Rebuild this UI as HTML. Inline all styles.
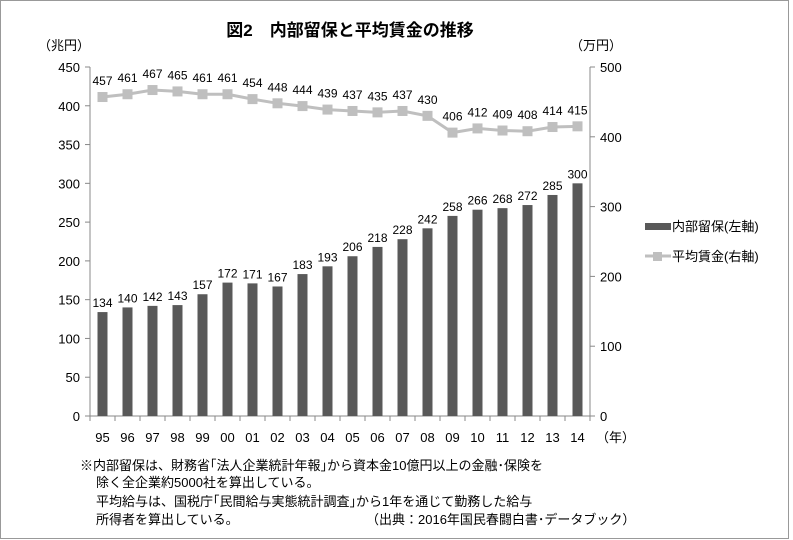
<!DOCTYPE html>
<html><head><meta charset="utf-8"><style>
body{margin:0;background:#fff}
svg{display:block;font-family:"Liberation Sans","Noto Sans CJK JP",sans-serif}
</style></head><body>
<svg id="c" width="793" height="540" viewBox="0 0 793 540">
<rect x="0.5" y="0.5" width="788" height="538" fill="#fff" stroke="#999"/>
<text x="350" y="36" font-size="17" font-weight="bold" text-anchor="middle">図2　内部留保と平均賃金の推移</text>
<text x="38" y="50" font-size="13">（兆円）</text>
<text x="570" y="50" font-size="13">（万円）</text>
<g id="ax"></g>
<g id="bars"></g>
<g id="line"></g>
<rect x="645" y="223" width="26" height="7" fill="#595959"/>
<text x="672" y="231" font-size="13">内部留保(左軸)</text>
<line x1="645" y1="256" x2="671" y2="256" stroke="#bfbfbf" stroke-width="3"/>
<rect x="653" y="252" width="9" height="9" fill="#bfbfbf"/>
<text x="672" y="261" font-size="13">平均賃金(右軸)</text>
<text x="596" y="442" font-size="13">（年）</text>
<g font-size="13">
<text x="80" y="470">※内部留保は、財務省｢法人企業統計年報｣から資本金10億円以上の金融･保険を</text>
<text x="96" y="487">除く全企業約5000社を算出している。</text>
<text x="96" y="506">平均給与は、国税庁｢民間給与実態統計調査｣から1年を通じて勤務した給与</text>
<text x="96" y="524">所得者を算出している。</text>
<text x="366" y="524">（出典：2016年国民春闘白書･データブック）</text>
</g>
</svg>
<script>
const years=["95","96","97","98","99","00","01","02","03","04","05","06","07","08","09","10","11","12","13","14"];
const cats=years.slice(0,20);
const reserves=[134,140,142,143,157,172,171,167,183,193,206,218,228,242,258,266,268,272,285,300];
const wages=[457,461,467,465,461,461,454,448,444,439,437,435,437,430,406,412,409,408,414,415];
const leftTicks=[0,50,100,150,200,250,300,350,400,450];
const rightTicks=[0,100,200,300,400,500];
const NS="http://www.w3.org/2000/svg";
const X0=90,X1=590,Y0=416,Y1=67;
const n=cats.length;
const bw=(X1-X0)/n;
const xc=i=>X0+bw*(i+0.5);
const yl=v=>Y0-(Y0-Y1)*v/450;
const yr=v=>Y0-(Y0-Y1)*v/500;
function mk(t,a,p){const e=document.createElementNS(NS,t);for(const k in a)e.setAttribute(k,a[k]);p.appendChild(e);return e;}
const ax=document.getElementById('ax'),bars=document.getElementById('bars'),line=document.getElementById('line');
let e=mk('line',{x1:X0,y1:Y1,x2:X0,y2:Y0,stroke:'#888'},ax);


e=mk('line',{x1:X1,y1:Y1,x2:X1,y2:Y0,stroke:'#888'},ax);


e=mk('line',{x1:X0,y1:Y0,x2:X1,y2:Y0,stroke:'#888'},ax);


leftTicks.forEach(v=>{mk('line',{x1:X0-5,x2:X0,y1:yl(v),y2:yl(v),stroke:'#888'},ax);
const t=mk('text',{x:X0-10,y:yl(v)+5,'font-size':13,'text-anchor':'end'},ax);t.textContent=v;

});
rightTicks.forEach(v=>{mk('line',{x1:X1,x2:X1+5,y1:yr(v),y2:yr(v),stroke:'#888'},ax);
const t=mk('text',{x:X1+10,y:yr(v)+5,'font-size':13},ax);t.textContent=v;

});
for(let i=0;i<=n;i++)mk('line',{x1:X0+bw*i,x2:X0+bw*i,y1:Y0,y2:Y0+5,stroke:'#888'},ax);
cats.forEach((c,i)=>{const t=mk('text',{x:xc(i),y:442,'font-size':13,'text-anchor':'middle'},ax);t.textContent=c;

});
reserves.forEach((v,i)=>{const r=mk('rect',{x:xc(i)-5,y:yl(v),width:10,height:Y0-yl(v),fill:'#595959'},bars);


const t=mk('text',{x:xc(i),y:yl(v)-5,'font-size':12,'text-anchor':'middle'},bars);t.textContent=v;

});
const pl=mk('polyline',{points:wages.map((v,i)=>xc(i)+','+yr(v)).join(' '),fill:'none',stroke:'#bfbfbf','stroke-width':3},line);


wages.forEach((v,i)=>{const r=mk('rect',{x:xc(i)-5,y:yr(v)-5,width:10,height:10,fill:'#bfbfbf'},line);


const t=mk('text',{x:xc(i),y:yr(v)-12,'font-size':12,'text-anchor':'middle'},line);t.textContent=v;

});
</script>
</body></html>
